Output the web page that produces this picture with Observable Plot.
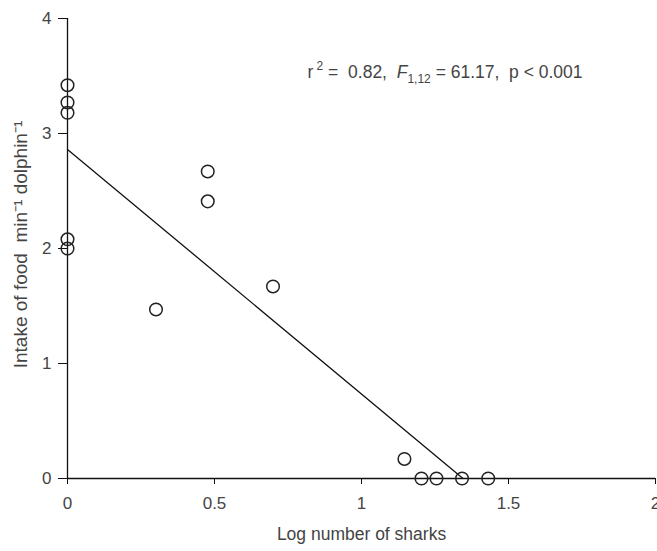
<!DOCTYPE html>
<html><head><meta charset="utf-8">
<script src="https://cdn.jsdelivr.net/npm/d3@7"></script>
<script src="https://cdn.jsdelivr.net/npm/@observablehq/plot@0.6"></script>
<style>
body{margin:0;background:#fff}
#chart svg{overflow:visible}
</style>
</head><body><div id="chart"></div>
<script>
// Data
const logSharks = [0, 0, 0, 0, 0, 0.301, 0.477, 0.477, 0.699, 1.146, 1.204, 1.255, 1.342, 1.431];
const intake    = [3.42, 3.27, 3.18, 2.08, 2.00, 1.47, 2.67, 2.41, 1.67, 0.17, 0, 0, 0, 0];
const xTicks = [0, 0.5, 1, 1.5, 2];
const xTickLabels = ["0", "0.5", "1", "1.5", "2"];
const yTicks = [0, 1, 2, 3, 4];
const xLabel = "Log number of sharks";
const yLabel = "Intake of food  min\u207B\u00B9 dolphin\u207B\u00B9";
const statPos = [{x: 0.816, y: 3.53}];

const pts = logSharks.map((x, i) => ({x, y: intake[i]}));
const FONT = "'Liberation Sans Narrow', 'Liberation Sans', Arial, sans-serif";
const TXT = "#444";

const plot = Plot.plot({
  width: 657,
  height: 551,
  marginLeft: 67,
  marginRight: 2,
  marginTop: 18,
  marginBottom: 73,
  style: {fontFamily: FONT, fontSize: "17px", color: TXT, background: "#fff"},
  x: {domain: [0, 2]},
  y: {domain: [0, 4]},
  marks: [
    Plot.axisX({ticks: xTicks, tickFormat: d => xTickLabels[xTicks.indexOf(d)], tickSize: 6, tickPadding: 12, stroke: "#111", fill: TXT, label: null, fontSize: 17}),
    Plot.axisY({ticks: yTicks, tickFormat: d => String(d), tickSize: 9, tickPadding: 7, stroke: "#111", fill: TXT, label: null, fontSize: 17}),
    Plot.ruleY([0], {stroke: "#111", strokeWidth: 1.3}),
    Plot.ruleX([0], {stroke: "#111", strokeWidth: 1.3}),
    Plot.linearRegressionY(pts, {x: "x", y: "y", ci: 0, stroke: "#111", strokeWidth: 1.3, clip: true}),
    Plot.dot(pts, {x: "x", y: "y", r: 6.3, stroke: "#222", strokeWidth: 1.5, fill: "none"}),
    Plot.text(statPos, {x: "x", y: "y", text: () => "stat", textAnchor: "start", fontSize: 17.5, fill: TXT, className: "stat"}),
    Plot.text([xLabel], {frameAnchor: "bottom", dy: 61, text: d => d, fontSize: 17.5, fill: TXT}),
    Plot.text([yLabel], {frameAnchor: "left", textAnchor: "middle", dx: -47, dy: -4, rotate: -90, text: d => d, fontSize: 19, fill: TXT})
  ]
});

// rich text for statistics annotation (r², italic F with subscript)
d3.select(plot).selectAll("g.stat text").each(function() {
  const t = d3.select(this);
  t.text(null);
  t.append("tspan").text("r");
  t.append("tspan").attr("font-size", 12).attr("dy", -8).text(" 2");
  t.append("tspan").attr("dy", 8).text(" =  0.82,  ");
  t.append("tspan").attr("font-style", "italic").text("F");
  t.append("tspan").attr("font-size", 12).attr("dy", 5).text("1,12");
  t.append("tspan").attr("dy", -5).text(" = 61.17,  p < 0.001");
});

document.getElementById("chart").appendChild(plot);
</script>
</body></html>
